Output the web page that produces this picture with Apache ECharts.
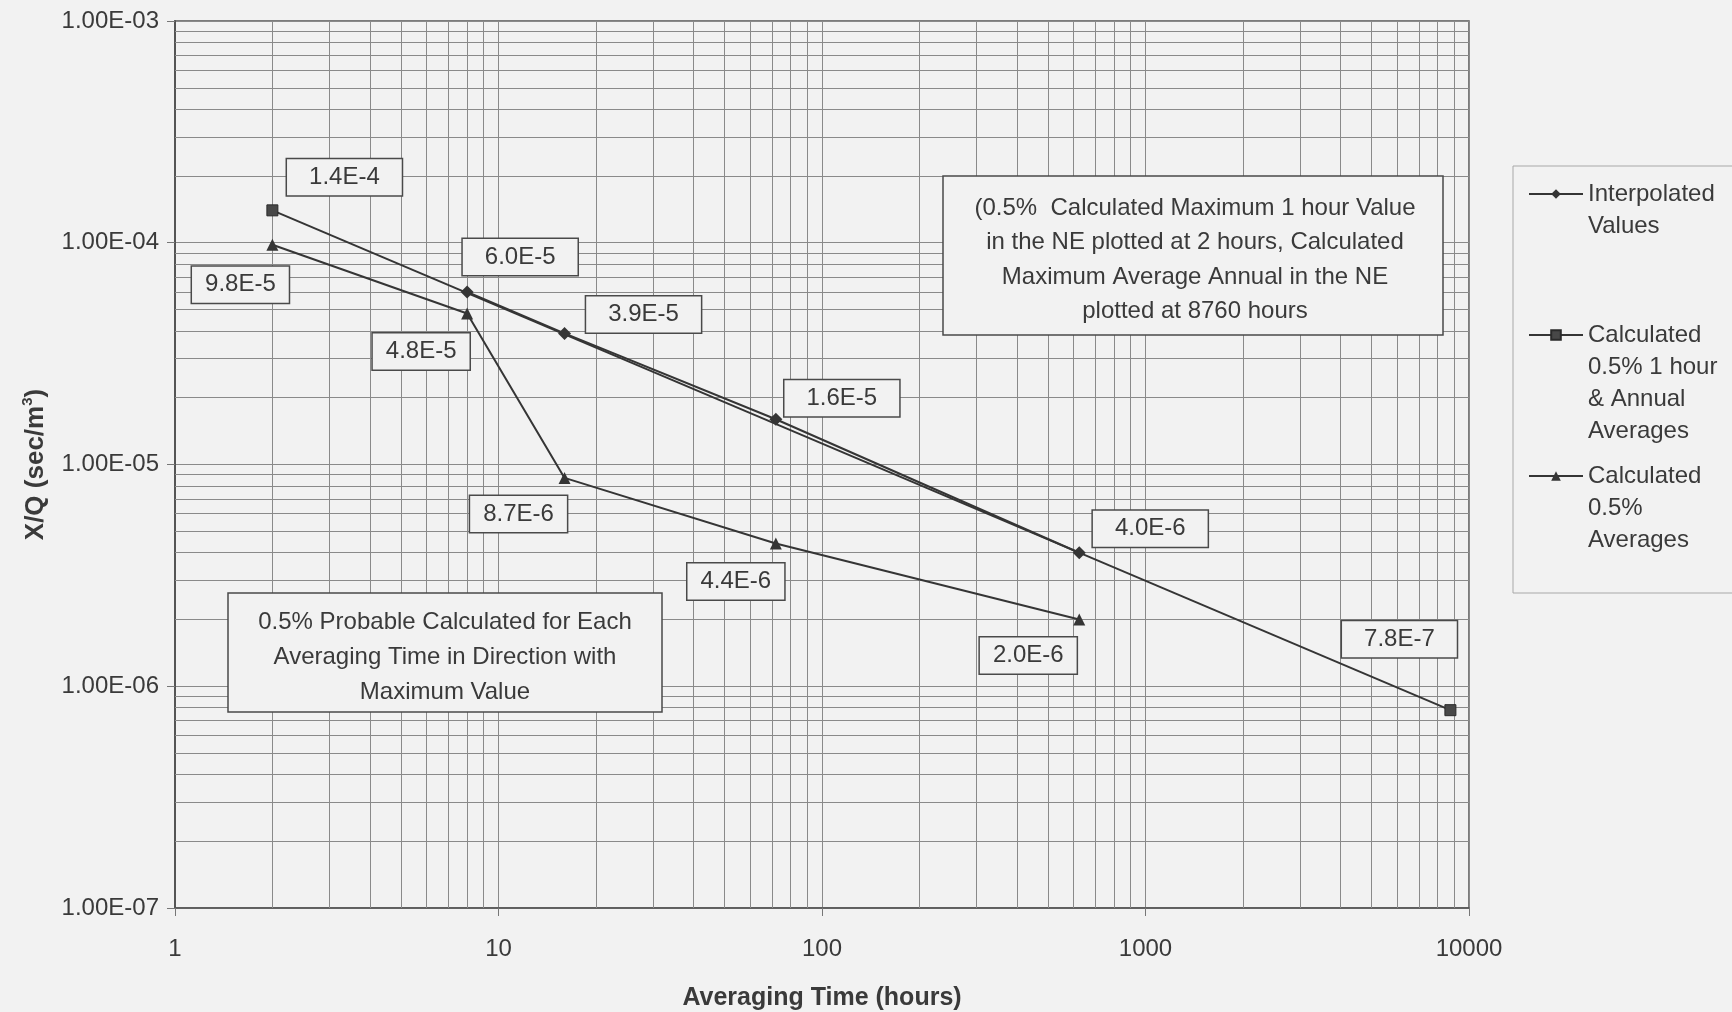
<!DOCTYPE html>
<html>
<head>
<meta charset="utf-8">
<title>X/Q vs Averaging Time</title>
<script src="https://cdn.jsdelivr.net/npm/echarts@6/dist/echarts.min.js"></script>
<style>
  html, body { margin: 0; padding: 0; background: #f2f2f2; }
  #chart { width: 1732px; height: 1012px; }
</style>
</head>
<body>
<div id="chart"></div>
<script>
// Averaging time (hours) and X/Q (sec/m^3) for each series
const hoursInterp = [8, 16, 72, 624];
const xqInterp = [6.0e-5, 3.9e-5, 1.6e-5, 4.0e-6];

const hoursCalc = [2, 8760];
const xqCalc = [1.4e-4, 7.8e-7];

const hoursAvg = [2, 8, 16, 72, 624];
const xqAvg = [9.8e-5, 4.8e-5, 8.7e-6, 4.4e-6, 2.0e-6];

// Series names and their legend wording
const seriesNames = ['Interpolated Values', 'Calculated 0.5% 1 hour & Annual Averages', 'Calculated 0.5% Averages'];
const legendText = {
  'Interpolated Values': 'Interpolated\nValues',
  'Calculated 0.5% 1 hour & Annual Averages': 'Calculated\n0.5% 1 hour\n& Annual\nAverages',
  'Calculated 0.5% Averages': 'Calculated\n0.5%\nAverages'
};

// Axis ranges
const xRange = [1, 10000];
const yRange = [1e-7, 1e-3];

// Value-label placement (pixel offsets from each marker)
const offsInterp = [[53, -35], [79, -19], [66, -21], [71, -24]];
const offsCalc = [[72, -33], [-51, -71]];
const offsAvg = [[-32, 40], [-46, 38], [-46, 36], [-40, 38], [-51, 36]];

const ink = '#353535';
const textInk = '#3a3a3a';
const gridInk = '#8a8a8a';
const paper = '#f2f2f2';
const font = '"Liberation Sans", Arial, sans-serif';
const legendLine = 32;

// Minor log gridlines (2..9 within each decade)
function minorValues(lo, hi) {
  const out = [];
  for (let e = Math.round(Math.log10(lo)); e < Math.round(Math.log10(hi)); e++) {
    for (let k = 2; k <= 9; k++) out.push(k * Math.pow(10, e));
  }
  return out;
}

function sci(v) {
  return v.toExponential(1).toUpperCase().replace('E+', 'E');
}

function points(xs, ys, offs, padH) {
  return xs.map((x, i) => ({
    value: [x, ys[i]],
    label: { offset: offs[i], padding: [6, padH, 6, padH] }
  }));
}

const valueLabel = {
  show: true,
  position: 'inside',
  formatter: p => sci(p.value[1]),
  fontFamily: font,
  fontSize: 24,
  color: textInk,
  backgroundColor: paper,
  borderColor: '#4a4a4a',
  borderWidth: 1.5
};

const chart = echarts.init(document.getElementById('chart'), null, { renderer: 'canvas' });

// One legend block per series; blank leading lines keep the icon level with the first text line
function legendBlock(name, firstLineY) {
  const lines = legendText[name].split('\n').length;
  return {
    data: [name],
    orient: 'vertical',
    left: 1528,
    top: firstLineY - (2 * lines - 1) * legendLine / 2,
    padding: 0,
    itemWidth: 54,
    itemHeight: 12,
    itemGap: 0,
    selectedMode: false,
    formatter: n => '\n'.repeat(lines - 1) + legendText[n],
    textStyle: { fontFamily: font, fontSize: 24, lineHeight: legendLine, color: textInk }
  };
}

const minorX = minorValues(xRange[0], xRange[1]);
const minorY = minorValues(yRange[0], yRange[1]);

const option = {
  backgroundColor: paper,
  animation: false,
  textStyle: { fontFamily: font },
  grid: {
    left: 175, right: 263, top: 21, bottom: 104,
    outerBoundsMode: 'none',
    show: true, borderColor: '#555', borderWidth: 1.5, backgroundColor: paper
  },
  xAxis: {
    type: 'log', logBase: 10, min: xRange[0], max: xRange[1], splitNumber: 4,
    name: 'Averaging Time (hours)', nameLocation: 'middle', nameGap: 78,
    nameTextStyle: { fontFamily: font, fontSize: 25, fontWeight: 'bold', color: textInk },
    axisLine: { show: true, lineStyle: { color: '#555', width: 1.5 } },
    axisTick: { show: true, length: 8, lineStyle: { color: '#777' } },
    axisLabel: { margin: 29, fontFamily: font, fontSize: 24, color: textInk, formatter: v => String(Math.round(v)) },
    splitLine: { show: true, lineStyle: { color: gridInk, width: 1 } }
  },
  yAxis: {
    type: 'log', logBase: 10, min: yRange[0], max: yRange[1], splitNumber: 4,
    name: 'X/Q (sec/m{sup|3})', nameLocation: 'middle', nameGap: 123,
    nameTextStyle: {
      fontFamily: font, fontSize: 26, fontWeight: 'bold', color: textInk, lineHeight: 30,
      rich: { sup: { fontFamily: font, fontSize: 15, fontWeight: 'bold', color: textInk, verticalAlign: 'top', lineHeight: 30 } }
    },
    axisLine: { show: true, lineStyle: { color: '#555', width: 2 } },
    axisTick: { show: true, length: 8, lineStyle: { color: '#777' } },
    axisLabel: {
      margin: 16, fontFamily: font, fontSize: 24, color: textInk,
      formatter: v => {
        const e = Math.round(Math.log10(v));
        const m = v / Math.pow(10, e);
        return m.toFixed(2) + 'E' + (e < 0 ? '-' : '+') + String(Math.abs(e)).padStart(2, '0');
      }
    },
    splitLine: { show: true, lineStyle: { color: gridInk, width: 1 } }
  },
  legend: [
    legendBlock(seriesNames[0], 194),
    legendBlock(seriesNames[1], 335),
    legendBlock(seriesNames[2], 476)
  ],
  graphic: [
    // legend frame
    { type: 'rect', z: 0, shape: { x: 1513, y: 166, width: 240, height: 427 },
      style: { fill: 'none', stroke: '#a8a8a8', lineWidth: 1 } },
    // note on the 1-hour and annual points
    { type: 'rect', z: 100, shape: { x: 943, y: 176, width: 500, height: 159 },
      style: { fill: paper, stroke: '#4a4a4a', lineWidth: 1.5 } },
    { type: 'text', z: 101, x: 1195, y: 260,
      style: {
        text: '(0.5%  Calculated Maximum 1 hour Value\nin the NE plotted at 2 hours, Calculated\nMaximum Average Annual in the NE\nplotted at 8760 hours',
        font: '24px ' + font, fill: textInk, align: 'center', verticalAlign: 'middle', lineHeight: 34.5
      } },
    // note on the averaging-time series
    { type: 'rect', z: 100, shape: { x: 228, y: 593, width: 434, height: 119 },
      style: { fill: paper, stroke: '#4a4a4a', lineWidth: 1.5 } },
    { type: 'text', z: 101, x: 445, y: 657,
      style: {
        text: '0.5% Probable Calculated for Each\nAveraging Time in Direction with\nMaximum Value',
        font: '24px ' + font, fill: textInk, align: 'center', verticalAlign: 'middle', lineHeight: 35
      } }
  ],
  series: [
    {
      // minor log gridlines, drawn edge to edge through the axis scales
      type: 'line', name: 'minor-grid', data: [], silent: true, z: 1,
      markLine: {
        silent: true, animation: false, z: 1,
        symbol: ['none', 'none'],
        label: { show: false },
        lineStyle: { color: gridInk, width: 1, type: 'solid' },
        emphasis: { disabled: true },
        data: [
          ...minorX.map(v => [{ coord: [v, yRange[0]] }, { coord: [v, yRange[1]] }]),
          ...minorY.map(v => [{ coord: [xRange[0], v] }, { coord: [xRange[1], v] }])
        ]
      }
    },
    {
      name: seriesNames[1], type: 'line', z: 3,
      symbol: 'rect', symbolSize: 11,
      lineStyle: { color: ink, width: 2 },
      itemStyle: { color: '#484848', borderColor: '#2a2a2a', borderWidth: 1 },
      label: valueLabel,
      data: points(hoursCalc, xqCalc, offsCalc, 22)
    },
    {
      name: seriesNames[0], type: 'line', z: 4,
      symbol: 'diamond', symbolSize: 13,
      lineStyle: { color: ink, width: 2 },
      itemStyle: { color: ink },
      label: valueLabel,
      data: points(hoursInterp, xqInterp, offsInterp, 22)
    },
    {
      name: seriesNames[2], type: 'line', z: 3,
      symbol: 'triangle', symbolSize: 12,
      lineStyle: { color: ink, width: 2 },
      itemStyle: { color: ink },
      label: valueLabel,
      data: points(hoursAvg, xqAvg, offsAvg, 13)
    }
  ]
};

chart.setOption(option);
</script>
</body>
</html>
